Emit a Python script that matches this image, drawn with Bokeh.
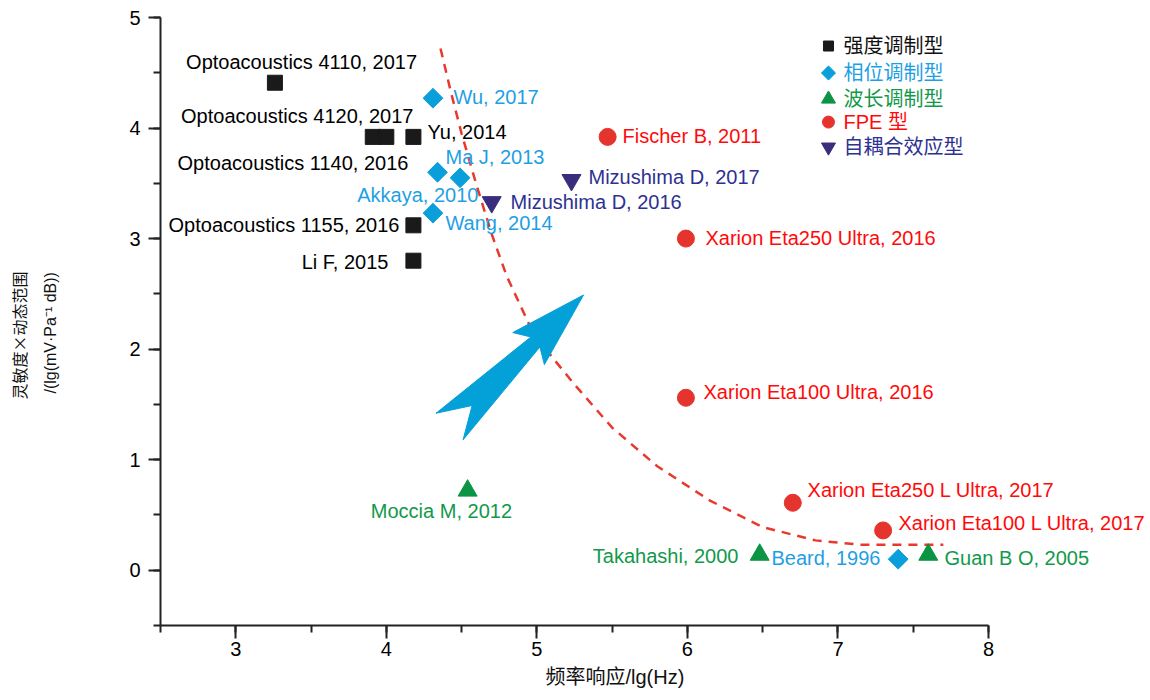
from bokeh.plotting import figure
from bokeh.layouts import row
from bokeh.models import ColumnDataSource, LinearAxis, SingleIntervalTicker, Range1d, Title
from bokeh.embed import file_html
from bokeh.resources import INLINE
from bokeh.core.properties import value
import math

# ---------------- data ----------------
# intensity modulation (black squares)
int_x = [3.26, 3.91, 4.00, 4.18, 4.18, 4.18]
int_y = [4.41, 3.92, 3.92, 3.92, 3.12, 2.80]
# phase modulation (blue diamonds)
ph_x = [4.31, 4.34, 4.49, 4.31, 7.40]
ph_y = [4.27, 3.60, 3.55, 3.23, 0.10]
# wavelength modulation (green triangles)
wl_x = [4.54, 6.48, 7.60]
wl_y = [0.72, 0.14, 0.14]
# FPE type (red circles)
fpe_x = [5.47, 5.99, 5.99, 6.70, 7.30]
fpe_y = [3.92, 3.00, 1.56, 0.61, 0.36]
# self-coupling effect (purple inverted triangles)
sc_x = [5.23, 4.70]
sc_y = [3.53, 3.33]

# dashed trend curve
trend_x = [4.36, 4.43, 4.50, 4.60, 4.70, 4.80, 4.95, 5.10, 5.25, 5.50, 5.80, 6.15, 6.50, 6.85, 7.15, 7.70]
trend_y = [4.72, 4.32, 3.95, 3.48, 3.04, 2.66, 2.22, 1.93, 1.68, 1.29, 0.94, 0.63, 0.39, 0.27, 0.23, 0.23]

# big blue arrow outline
arrow_x = [5.31, 4.84, 4.96, 4.33, 4.57, 4.51, 5.02, 5.05]
arrow_y = [2.49, 2.15, 2.11, 1.42, 1.49, 1.18, 2.02, 1.86]

# point annotations: text, anchor x, anchor y, alignment
black_txt = ["Optoacoustics 4110, 2017", "Optoacoustics 4120, 2017", "Yu, 2014",
             "Optoacoustics 1140, 2016", "Optoacoustics 1155, 2016", "Li F, 2015"]
black_lx = [3.437, 4.18, 4.274, 4.147, 4.087, 4.014]
black_ly = [4.597, 4.109, 3.964, 3.683, 3.122, 2.787]
black_al = ["center", "right", "left", "right", "right", "right"]

blue_txt = ["Wu, 2017", "Ma J, 2013", "Akkaya, 2010", "Wang, 2014", "Beard, 1996"]
blue_lx = [4.446, 4.393, 4.612, 4.393, 6.558]
blue_ly = [4.281, 3.738, 3.394, 3.140, 0.109]
blue_al = ["left", "left", "right", "left", "left"]

green_txt = ["Moccia M, 2012", "Takahashi, 2000", "Guan B O, 2005"]
green_lx = [4.366, 6.339, 7.708]
green_ly = [0.534, 0.127, 0.109]
green_al = ["center", "right", "left"]

red_txt = ["Fischer B, 2011", "Xarion Eta250 Ultra, 2016", "Xarion Eta100 Ultra, 2016",
           "Xarion Eta250 L Ultra, 2017", "Xarion Eta100 L Ultra, 2017"]
red_lx = [5.569, 6.120, 6.107, 6.798, 7.402]
red_ly = [3.928, 3.005, 1.611, 0.724, 0.425]
red_al = ["left", "left", "left", "left", "left"]

navy_txt = ["Mizushima D, 2017", "Mizushima D, 2016"]
navy_lx = [5.343, 4.825]
navy_ly = [3.557, 3.330]
navy_al = ["left", "left"]

legend_txt = ["强度调制型", "相位调制型", "波长调制型", " FPE 型", "自耦合效应型"]

x_label = "频率响应/lg(Hz)"
y_label_1 = "灵敏度×动态范围"
y_label_2 = "/(lg(mV·Pa⁻¹ dB))"

# ---------------- style ----------------
C_BLACK = "#1a1a1a"
C_BLUE_M = "#0a9fda"
C_BLUE_T = "#1f9fe3"
C_GREEN_M = "#0b9444"
C_GREEN_T = "#12994a"
C_RED_M = "#e5332d"
C_RED_T = "#ff0a0a"
C_NAVY_M = "#3b2d7e"
C_NAVY_T = "#2e3192"
C_DASH = "#e8392f"
C_ARROW = "#04a0d8"

LATIN = "Liberation Sans"
MIXED = "Liberation Sans, Noto Sans CJK SC"

SIDE_W = 70   # width of the strip that carries the rotated y-axis title
H = 700

# ---- strip with the two-line y-axis title (pixel coordinates) ----
side = figure(width=SIDE_W, height=H, x_range=Range1d(0, SIDE_W), y_range=Range1d(0, H),
              x_axis_type=None, y_axis_type=None, output_backend="svg", toolbar_location=None,
              min_border=0)
side.outline_line_color = None
side.grid.visible = False
side.text(x=[18], y=[H - 366], text=[y_label_1], angle=math.pi / 2,
          text_align="center", text_baseline="middle",
          text_font=value("Noto Sans CJK SC"), text_font_size="16px", text_color="#111111")
side.text(x=[50], y=[H - 363], text=[y_label_2], angle=math.pi / 2,
          text_align="center", text_baseline="middle",
          text_font=value(MIXED), text_font_size="16px", text_color="#111111")

# ---- main plot ----
p = figure(width=1150 - SIDE_W, height=H,
           x_range=Range1d(2.5, 9.076), y_range=Range1d(-0.5, 5.0),
           x_axis_type=None, y_axis_type=None,
           output_backend="svg", toolbar_location=None,
           min_border_left=160 - SIDE_W, min_border_right=0, min_border_top=17, min_border_bottom=75)
p.outline_line_color = None
p.background_fill_color = "white"

axis_style = dict(axis_line_color="#222222", axis_line_width=2,
                  major_tick_line_color="#222222", major_tick_line_width=2,
                  minor_tick_line_color="#222222", minor_tick_line_width=2,
                  major_tick_in=0, minor_tick_in=0,
                  major_label_text_font=LATIN, major_label_text_color="#000000",
                  major_label_text_font_size="20px")

xa = LinearAxis(ticker=SingleIntervalTicker(interval=1, num_minor_ticks=2), bounds=(2.5, 8),
                major_tick_out=13, minor_tick_out=7, major_label_standoff=3, **axis_style)
p.add_layout(xa, "below")

ya = LinearAxis(ticker=SingleIntervalTicker(interval=1, num_minor_ticks=2), bounds=(-0.5, 5),
                major_tick_out=12, minor_tick_out=7, major_label_standoff=8, **axis_style)
p.add_layout(ya, "left")

# x axis title
p.add_layout(Title(text=x_label, align="left", offset=385, standoff=10,
                   text_font=MIXED, text_font_size="20px", text_font_style="normal",
                   text_color="#111111"), "below")

# dashed trend line
p.line(trend_x, trend_y, line_color=C_DASH, line_width=2.5, line_dash="9 7")

# arrow
p.patch(arrow_x, arrow_y, fill_color=C_ARROW, line_color=C_ARROW, line_width=1)

# markers
p.scatter(int_x, int_y, marker="square", size=15, fill_color=C_BLACK, line_color=C_BLACK)
p.scatter(ph_x, ph_y, marker="square", angle=math.pi / 4, size=14, fill_color=C_BLUE_M, line_color=C_BLUE_M)
p.scatter(wl_x, wl_y, marker="triangle", size=19, fill_color=C_GREEN_M, line_color=C_GREEN_M)
p.scatter(fpe_x, fpe_y, marker="circle", size=17, fill_color=C_RED_M, line_color=C_RED_M)
p.scatter(sc_x, sc_y, marker="inverted_triangle", size=19, fill_color=C_NAVY_M, line_color=C_NAVY_M)


def labels(txt, lx, ly, al, color):
    src = ColumnDataSource(dict(x=lx, y=ly, t=txt, a=al))
    p.text(x="x", y="y", text="t", text_align="a", source=src, text_baseline="middle",
           text_font=value(LATIN), text_font_size="20px", text_color=color)


labels(black_txt, black_lx, black_ly, black_al, "#000000")
labels(blue_txt, blue_lx, blue_ly, blue_al, C_BLUE_T)
labels(green_txt, green_lx, green_ly, green_al, C_GREEN_T)
labels(red_txt, red_lx, red_ly, red_al, C_RED_T)
labels(navy_txt, navy_lx, navy_ly, navy_al, C_NAVY_T)

# legend (drawn manually so each entry keeps its own text colour)
LEG_MX, LEG_TX = 6.937, 7.037
leg_rows = [4.742, 4.498, 4.262, 4.054, 3.828]
p.scatter([LEG_MX], [leg_rows[0]], marker="square", size=10, fill_color=C_BLACK, line_color=C_BLACK)
p.scatter([LEG_MX], [leg_rows[1]], marker="square", angle=math.pi / 4, size=10, fill_color=C_BLUE_M, line_color=C_BLUE_M)
p.scatter([LEG_MX], [leg_rows[2]], marker="triangle", size=14, fill_color=C_GREEN_M, line_color=C_GREEN_M)
p.scatter([LEG_MX], [leg_rows[3]], marker="circle", size=12, fill_color=C_RED_M, line_color=C_RED_M)
p.scatter([LEG_MX], [leg_rows[4]], marker="inverted_triangle", size=14, fill_color=C_NAVY_M, line_color=C_NAVY_M)
leg_src = ColumnDataSource(dict(x=[LEG_TX] * 5, y=leg_rows, t=legend_txt,
                                c=["#111111", C_BLUE_T, C_GREEN_T, C_RED_T, C_NAVY_T]))
p.text(x="x", y="y", text="t", text_color="c", source=leg_src, text_baseline="middle",
       text_align="left", text_font=value(MIXED), text_font_size="20px")

layout = row(side, p, spacing=0)
open("out.html", "w").write(file_html(layout, INLINE))
